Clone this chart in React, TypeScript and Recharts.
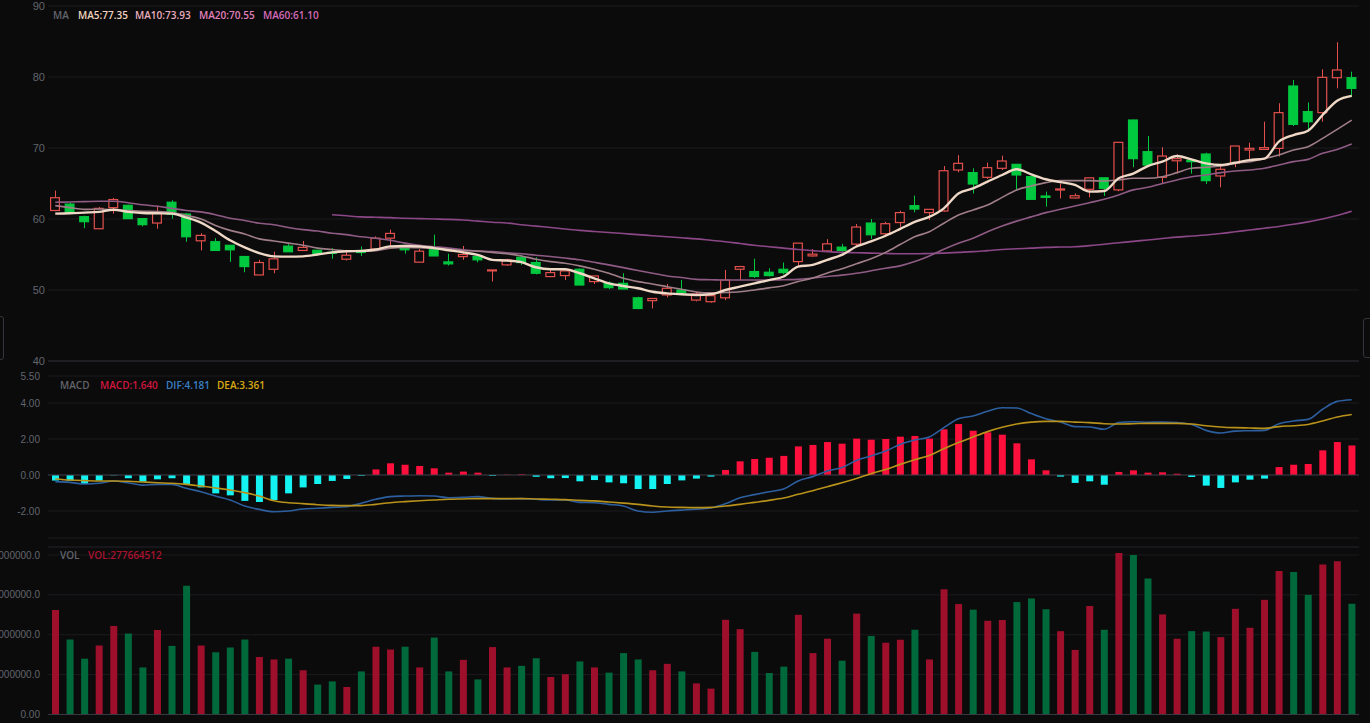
import { ComposedChart, Bar, Line, XAxis, YAxis, CartesianGrid, Cell, ReferenceLine } from 'recharts';

// daily candles, oldest first
const opens = [
  61.2, 62.1, 60.33, 58.63, 61.6, 61.93, 60.05, 59.43, 62.36, 60.7,
  56.93, 56.8, 56.3, 54.72, 52.12, 52.92, 56.18, 55.57, 55.6, 55.3,
  54.34, 55.47, 55.75, 57.3, 56.27, 53.92, 55.75, 53.96, 54.7, 54.72,
  52.69, 53.54, 54.62, 53.87, 51.89, 52.03, 52.92, 51.18, 50.94, 50.94,
  48.9, 48.5, 49.3, 50.0, 48.58, 48.35, 48.9, 52.92, 52.6, 52.5,
  52.92, 54.0, 54.8, 55.5, 56.04, 56.46, 59.43, 57.92, 59.5, 61.88,
  60.9, 61.13, 66.9, 66.53, 65.87, 67.14, 67.7, 65.96, 63.24, 64.1,
  62.96, 64.18, 65.8, 64.1, 73.94, 69.48, 65.87, 68.2, 68.3, 69.15,
  66.06, 67.84, 69.72, 69.8, 69.95, 78.73, 75.12, 74.98, 79.9, 79.9,
];
const highs = [
  64.0, 62.3, 60.47, 61.7, 62.97, 62.0, 60.05, 61.9, 62.64, 60.8,
  58.0, 57.3, 56.3, 54.72, 54.25, 55.4, 56.46, 56.9, 55.6, 55.9,
  55.66, 56.13, 57.55, 58.5, 56.27, 55.8, 57.8, 55.1, 56.2, 54.8,
  52.83, 54.4, 54.95, 54.6, 53.1, 52.69, 53.05, 51.98, 51.2, 52.36,
  49.06, 48.8, 50.85, 51.4, 49.76, 49.2, 52.83, 53.4, 54.4, 53.07,
  53.87, 56.6, 55.75, 57.17, 56.5, 59.3, 60.0, 59.6, 61.17, 63.3,
  61.36, 67.46, 69.0, 67.14, 67.93, 68.92, 67.7, 65.96, 63.85, 65.0,
  63.6, 65.8, 65.8, 70.8, 74.0, 71.7, 70.1, 69.1, 68.3, 69.34,
  67.46, 70.28, 70.75, 73.7, 76.3, 79.58, 76.4, 81.08, 84.9, 80.75,
];
const lows = [
  61.1, 60.75, 58.7, 58.6, 60.75, 60.05, 58.96, 58.63, 60.05, 56.8,
  55.57, 55.57, 53.96, 52.5, 52.12, 52.36, 55.38, 55.57, 55.1, 54.4,
  54.15, 54.8, 55.75, 56.2, 55.1, 53.92, 54.8, 53.44, 54.25, 53.9,
  51.2, 53.4, 53.54, 52.2, 51.89, 51.4, 50.7, 50.85, 50.1, 50.14,
  47.3, 47.4, 48.96, 49.62, 48.4, 48.2, 48.58, 51.4, 51.7, 51.9,
  52.2, 53.4, 54.7, 55.4, 55.4, 56.2, 57.17, 57.45, 58.9, 60.94,
  59.86, 61.0, 66.57, 63.6, 65.63, 66.9, 63.94, 62.77, 61.74, 62.9,
  62.9, 63.05, 63.24, 63.9, 67.3, 67.5, 64.93, 66.4, 66.4, 64.93,
  64.46, 67.28, 68.08, 69.8, 68.8, 73.1, 72.3, 73.7, 78.4, 77.2,
];
const closes = [
  63.0, 60.85, 59.62, 61.5, 62.74, 60.05, 59.2, 60.94, 60.66, 57.5,
  57.69, 55.57, 55.66, 53.3, 53.87, 54.39, 55.38, 56.0, 55.1, 55.2,
  54.9, 55.28, 57.3, 57.97, 55.66, 55.47, 54.8, 53.68, 55.0, 54.25,
  52.83, 54.25, 53.87, 52.36, 52.45, 52.69, 50.7, 51.98, 50.33, 50.14,
  47.4, 48.8, 50.24, 49.62, 49.43, 49.2, 51.4, 53.3, 51.9, 52.03,
  52.45, 56.6, 55.05, 56.5, 55.57, 58.87, 57.78, 59.34, 60.9, 61.4,
  61.36, 66.8, 67.84, 64.93, 67.23, 68.17, 66.2, 62.77, 63.05, 64.23,
  63.28, 65.8, 64.32, 70.8, 68.5, 67.6, 68.87, 68.5, 68.07, 65.4,
  67.0, 70.28, 69.95, 70.05, 74.98, 73.33, 73.7, 79.95, 80.99, 78.4,
];
const volumes = [
  262000000, 188000000, 140000000, 173000000, 222000000, 203000000, 118000000, 212000000, 172000000, 323000000,
  173000000, 156000000, 168000000, 188000000, 144000000, 138000000, 140000000, 111000000, 75000000, 83000000,
  69000000, 108000000, 170000000, 163000000, 170000000, 118000000, 193000000, 108000000, 137000000, 88000000,
  169000000, 118000000, 122000000, 141000000, 94000000, 101000000, 133000000, 118000000, 105000000, 154000000,
  138000000, 111000000, 127000000, 108000000, 78000000, 65000000, 237500000, 214000000, 157000000, 104000000,
  120000000, 250000000, 154000000, 190000000, 135000000, 253000000, 197000000, 180000000, 187500000, 212500000,
  138000000, 314000000, 277000000, 263000000, 235000000, 237000000, 282000000, 291000000, 264000000, 209000000,
  162000000, 272000000, 212500000, 405000000, 400000000, 341000000, 251000000, 190000000, 209000000, 208000000,
  194000000, 265000000, 217500000, 287500000, 360000000, 357500000, 300000000, 376000000, 384000000, 277664512,
];
const ma5 = [
  60.75, 60.8, 60.9, 61.0, 61.3, 61.0, 60.85, 60.8, 60.75, 60.2,
  59.5, 58.3, 57.0, 56.0, 55.2, 54.74, 54.7, 54.74, 55.0, 55.3,
  55.45, 55.5, 55.7, 56.15, 56.2, 56.15, 55.9, 55.6, 55.3, 54.95,
  54.25, 54.15, 53.92, 53.2, 52.92, 52.92, 52.36, 51.65, 50.94, 50.57,
  50.24, 49.76, 49.53, 49.4, 49.3, 49.4, 50.0, 50.47, 50.94, 51.4,
  51.9, 53.3, 53.54, 54.25, 54.95, 56.13, 56.84, 57.64, 58.6, 59.6,
  60.3, 61.5, 63.6, 64.3, 65.26, 66.2, 67.0, 66.3, 65.6, 65.2,
  64.8, 63.85, 63.94, 65.73, 66.4, 67.46, 68.08, 68.87, 68.4, 67.84,
  67.6, 67.93, 68.3, 68.5, 70.9, 71.83, 72.44, 74.65, 76.67, 77.35,
];
const ma10 = [
  61.88, 61.6, 61.35, 61.4, 61.3, 61.2, 61.1, 61.05, 60.9, 60.5,
  60.0, 59.1, 58.4, 57.9, 57.2, 56.9, 56.6, 56.3, 55.9, 55.7,
  55.5, 55.45, 55.55, 55.9, 56.0, 55.95, 55.85, 55.75, 55.57, 55.47,
  55.28, 55.1, 54.8, 54.34, 54.0, 53.77, 53.4, 52.92, 52.36, 51.65,
  51.18, 50.85, 50.47, 50.1, 49.72, 49.6, 49.65, 49.75, 50.0, 50.3,
  50.6, 51.2, 51.7, 52.4, 53.0, 53.7, 54.4, 55.3, 56.4, 57.5,
  58.2, 59.4, 60.56, 61.27, 61.97, 63.05, 64.1, 64.65, 65.12, 65.4,
  65.4, 65.4, 65.35, 65.5, 65.73, 65.73, 65.96, 66.53, 67.14, 67.28,
  67.46, 67.84, 68.07, 68.5, 69.0, 69.72, 70.19, 71.36, 72.63, 73.93,
];
const ma20 = [
  62.35, 62.4, 62.45, 62.5, 62.5, 62.3, 62.0, 61.8, 61.5, 61.2,
  61.0, 60.6, 60.1, 59.8, 59.4, 59.2, 58.8, 58.5, 58.3, 58.0,
  57.8, 57.5, 57.3, 57.0, 56.6, 56.3, 56.1, 55.9, 55.66, 55.5,
  55.42, 55.25, 55.1, 54.9, 54.72, 54.5, 54.25, 53.9, 53.54, 53.15,
  52.74, 52.35, 51.98, 51.75, 51.5, 51.45, 51.4, 51.4, 51.4, 51.4,
  51.45, 51.5, 51.7, 51.9, 52.1, 52.36, 52.7, 53.07, 53.4, 54.0,
  54.8, 55.73, 56.57, 57.28, 58.2, 59.0, 59.7, 60.3, 60.9, 61.36,
  61.83, 62.3, 62.77, 63.38, 64.1, 64.46, 65.0, 65.5, 65.96, 66.2,
  66.53, 66.76, 66.9, 67.14, 67.6, 68.08, 68.4, 69.25, 69.8, 70.55,
];
const ma60 = [
  null, null, null, null, null, null, null, null, null, null,
  null, null, null, null, null, null, null, null, null, 60.6,
  60.45, 60.3, 60.25, 60.2, 60.1, 60.05, 60.0, 59.95, 59.85, 59.7,
  59.55, 59.43, 59.2, 59.0, 58.8, 58.6, 58.4, 58.25, 58.1, 57.95,
  57.8, 57.65, 57.5, 57.35, 57.2, 57.0, 56.8, 56.55, 56.3, 56.1,
  55.9, 55.7, 55.55, 55.4, 55.3, 55.25, 55.2, 55.15, 55.1, 55.1,
  55.15, 55.2, 55.3, 55.4, 55.55, 55.7, 55.8, 55.9, 56.0, 56.05,
  56.1, 56.25, 56.45, 56.65, 56.85, 57.05, 57.25, 57.45, 57.6, 57.75,
  57.95, 58.2, 58.45, 58.7, 58.95, 59.25, 59.6, 60.0, 60.5, 61.1,
];
const macdHist = [
  -0.31, -0.31, -0.5, -0.31, -0.02, -0.18, -0.37, -0.24, -0.18, -0.5,
  -0.69, -1.02, -1.13, -1.44, -1.5, -1.39, -1.02, -0.69, -0.5, -0.33,
  -0.22, -0.05, 0.31, 0.65, 0.57, 0.5, 0.37, 0.13, 0.19, 0.13,
  -0.05, 0.02, 0.04, -0.1, -0.18, -0.17, -0.35, -0.28, -0.41, -0.46,
  -0.78, -0.78, -0.5, -0.3, -0.2, -0.09, 0.28, 0.76, 0.89, 0.96,
  1.06, 1.59, 1.67, 1.83, 1.74, 2.02, 1.96, 2.0, 2.13, 2.17,
  2.02, 2.54, 2.83, 2.46, 2.37, 2.24, 1.76, 0.87, 0.26, -0.09,
  -0.44, -0.35, -0.54, 0.17, 0.26, 0.13, 0.15, 0.07, -0.11, -0.59,
  -0.72, -0.41, -0.26, -0.2, 0.44, 0.57, 0.61, 1.37, 1.83, 1.64,
];
const dif = [
  -0.37, -0.41, -0.5, -0.46, -0.33, -0.43, -0.56, -0.52, -0.52, -0.74,
  -0.93, -1.17, -1.39, -1.72, -1.91, -2.04, -2.0, -1.89, -1.85, -1.8,
  -1.76, -1.57, -1.35, -1.2, -1.17, -1.15, -1.17, -1.26, -1.24, -1.2,
  -1.3, -1.33, -1.31, -1.35, -1.39, -1.39, -1.52, -1.54, -1.63, -1.72,
  -2.0, -2.07, -2.0, -1.95, -1.9, -1.83, -1.6, -1.26, -1.09, -0.93,
  -0.78, -0.33, -0.09, 0.22, 0.41, 0.81, 1.06, 1.33, 1.7, 1.94,
  2.11, 2.63, 3.13, 3.28, 3.54, 3.74, 3.72, 3.41, 3.13, 2.94,
  2.69, 2.67, 2.54, 2.91, 2.96, 2.93, 2.94, 2.91, 2.81, 2.48,
  2.33, 2.44, 2.46, 2.48, 2.85, 3.0, 3.09, 3.65, 4.09, 4.181,
];
const dea = [
  -0.22, -0.28, -0.31, -0.33, -0.33, -0.35, -0.39, -0.43, -0.46, -0.52,
  -0.61, -0.72, -0.83, -0.98, -1.17, -1.43, -1.54, -1.59, -1.65, -1.69,
  -1.7, -1.7, -1.63, -1.54, -1.48, -1.43, -1.39, -1.35, -1.33, -1.31,
  -1.31, -1.31, -1.31, -1.33, -1.35, -1.37, -1.41, -1.44, -1.5, -1.56,
  -1.63, -1.72, -1.78, -1.8, -1.81, -1.8, -1.72, -1.63, -1.52, -1.41,
  -1.28, -1.07, -0.87, -0.65, -0.43, -0.19, 0.07, 0.31, 0.59, 0.85,
  1.09, 1.46, 1.8, 2.11, 2.41, 2.65, 2.83, 2.94, 2.98, 2.98,
  2.94, 2.91, 2.85, 2.83, 2.85, 2.87, 2.87, 2.87, 2.83, 2.74,
  2.67, 2.63, 2.61, 2.59, 2.69, 2.74, 2.81, 3.0, 3.22, 3.361,
];

const priceTicks = [40, 50, 60, 70, 80, 90];
const macdTicks = [-3.5, -2, 0, 2, 4, 5.5];
const volTicks = [0, 100000000, 200000000, 300000000, 400000000];

const BG = '#0b0b0c';
const UP = '#e4504d';
const DOWN = '#00c83f';
const GRID = '#1c1c20';
const TICK = { fill: '#62656c', fontSize: 10, fontFamily: "'Liberation Sans', Arial, sans-serif" };

const rows = opens.map((open, i) => ({
  day: String(i + 1),
  open,
  high: highs[i],
  low: lows[i],
  close: closes[i],
  range: [lows[i], highs[i]],
  up: closes[i] >= open,
  vol: volumes[i],
  ma5: ma5[i],
  ma10: ma10[i],
  ma20: ma20[i],
  ma60: ma60[i],
  macd: macdHist[i],
  dif: dif[i],
  dea: dea[i],
}));

const Candle = (props: any) => {
  const { x, y, width, height, payload } = props;
  if (!payload) return null;
  const { open, close, high, low, up } = payload;
  const h = Math.abs(height);
  const top = height < 0 ? y + height : y;
  const span = high - low || 1;
  const toY = (v: number) => top + ((high - v) / span) * h;
  const cx = Math.round(x + width / 2) + 0.5;
  const bTop = toY(Math.max(open, close));
  const bBot = toY(Math.min(open, close));
  const bh = Math.max(bBot - bTop, 1);
  const color = up ? UP : DOWN;
  return (
    <g>
      <line x1={cx} x2={cx} y1={toY(high)} y2={bTop} stroke={color} strokeWidth={1} />
      <line x1={cx} x2={cx} y1={bTop + bh} y2={toY(low)} stroke={color} strokeWidth={1} />
      <rect
        x={x + 0.6}
        y={bTop}
        width={width - 1.2}
        height={bh}
        fill={up ? BG : color}
        stroke={color}
        strokeWidth={1.2}
      />
    </g>
  );
};

const label = (left: number, top: number, color: string, text: string) => (
  <span
    style={{
      position: 'absolute',
      left,
      top,
      color,
      fontSize: 10,
      lineHeight: '12px',
      fontWeight: 600,
      fontFamily: "'Open Sans', 'Liberation Sans', sans-serif",
      whiteSpace: 'nowrap',
    }}
  >
    {text}
  </span>
);

const W = 1370;
const margin = (top: number, bottom: number) => ({ top, right: 11, bottom, left: 0 });

export default function App() {
  return (
    <div style={{ position: 'absolute', left: 0, top: 0, width: W, height: 723, background: BG, overflow: 'hidden' }}>
      {/* price + moving averages */}
      <div style={{ position: 'absolute', left: 0, top: 0 }}>
        <ComposedChart width={W} height={370} data={rows} margin={margin(6, 9)}>
          <CartesianGrid vertical={false} stroke={GRID} />
          <XAxis dataKey="day" hide />
          <YAxis
            width={48}
            domain={[40, 90]}
            ticks={priceTicks}
            axisLine={false}
            tickLine={false}
            tickSize={1}
            tickMargin={2}
            tick={{ ...TICK, fontSize: 11 }}
          />
          <ReferenceLine y={40} stroke="#2a2a30" />
          <Line type="monotone" dataKey="ma60" stroke="#8c4787" strokeWidth={1.6} dot={false} activeDot={false} isAnimationActive={false} />
          <Line type="monotone" dataKey="ma20" stroke="#8f5b84" strokeWidth={1.6} dot={false} activeDot={false} isAnimationActive={false} />
          <Line type="monotone" dataKey="ma10" stroke="#a07e88" strokeWidth={1.6} dot={false} activeDot={false} isAnimationActive={false} />
          <Bar dataKey="range" barSize={10} shape={(p: any) => <Candle {...p} />} isAnimationActive={false} />
          <Line type="monotone" dataKey="ma5" stroke="#efd8c6" strokeWidth={2.4} dot={false} activeDot={false} isAnimationActive={false} />
        </ComposedChart>
      </div>

      {/* MACD */}
      <div style={{ position: 'absolute', left: 0, top: 370 }}>
        <ComposedChart width={W} height={172} data={rows} margin={margin(6, 4)}>
          <CartesianGrid vertical={false} stroke={GRID} />
          <XAxis dataKey="day" hide />
          <YAxis
            width={48}
            domain={[-3.5, 5.5]}
            ticks={macdTicks}
            axisLine={false}
            tickLine={false}
            tick={TICK}
            tickFormatter={(v: number) => v.toFixed(2)}
          />
          <ReferenceLine y={0} stroke="#383840" />
          <Bar dataKey="macd" barSize={7} isAnimationActive={false}>
            {rows.map((r, i) => (
              <Cell key={i} fill={r.macd >= 0 ? '#ff0f3c' : '#14f2f2'} />
            ))}
          </Bar>
          <Line type="monotone" dataKey="dif" stroke="#2d5f9f" strokeWidth={1.6} dot={false} activeDot={false} isAnimationActive={false} />
          <Line type="monotone" dataKey="dea" stroke="#b8921a" strokeWidth={1.6} dot={false} activeDot={false} isAnimationActive={false} />
        </ComposedChart>
      </div>

      {/* volume */}
      <div style={{ position: 'absolute', left: 0, top: 542 }}>
        <ComposedChart width={W} height={181} data={rows} margin={margin(5, 8.5)}>
          <CartesianGrid vertical={false} stroke={GRID} />
          <XAxis dataKey="day" hide />
          <YAxis
            width={48}
            domain={[0, 420000000]}
            ticks={volTicks}
            axisLine={false}
            tickLine={false}
            tick={TICK}
            tickFormatter={(v: number) => (v === 0 ? '0.00' : v.toFixed(1))}
          />
          <ReferenceLine y={420000000} stroke={GRID} />
          <Bar dataKey="vol" barSize={7} isAnimationActive={false}>
            {rows.map((r, i) => (
              <Cell key={i} fill={r.up ? '#9d0f2b' : '#00693b'} />
            ))}
          </Bar>
          <ReferenceLine y={0} stroke="#383840" />
        </ComposedChart>
      </div>

      {label(53, 9, '#62646b', 'MA')}
      {label(78, 9, '#f0d3bf', `MA5:${ma5[ma5.length - 1].toFixed(2)}`)}
      {label(135, 9, '#e8aebd', `MA10:${ma10[ma10.length - 1].toFixed(2)}`)}
      {label(199, 9, '#e080bb', `MA20:${ma20[ma20.length - 1].toFixed(2)}`)}
      {label(263, 9, '#d46ab8', `MA60:${(ma60[ma60.length - 1] as number).toFixed(2)}`)}

      {label(60, 379, '#62646b', 'MACD')}
      {label(100, 379, '#d2163e', `MACD:${macdHist[macdHist.length - 1].toFixed(3)}`)}
      {label(166, 379, '#3b7fc4', `DIF:${dif[dif.length - 1].toFixed(3)}`)}
      {label(217, 379, '#d9aa12', `DEA:${dea[dea.length - 1].toFixed(3)}`)}

      {label(60, 549, '#62646b', 'VOL')}
      {label(88, 549, '#a8122e', `VOL:${volumes[volumes.length - 1]}`)}

      {/* slider handles peeking in at the edges */}
      <div style={{ position: 'absolute', left: -6, top: 316, width: 8, height: 42, border: '1px solid #34343a', borderRadius: 3 }} />
      <div style={{ position: 'absolute', left: 1363, top: 318, width: 12, height: 38, border: '1px solid #34343a', borderRadius: 3 }} />
    </div>
  );
}
